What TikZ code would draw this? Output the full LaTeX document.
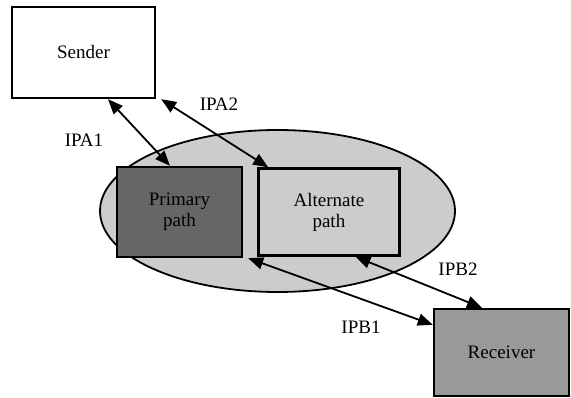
\documentclass[tikz,border=0pt]{standalone}
\usepackage{fontspec}
\setmainfont{Liberation Serif}
\usepackage{tikz}
\usetikzlibrary{arrows, arrows.meta, shapes, calc, positioning}
\definecolor{darkbox}{gray}{0.40}
\definecolor{midbox}{gray}{0.60}
\definecolor{lightbox}{gray}{0.80}
\tikzset {
    box/.style = {
        draw,
        shape = rectangle,
        line width=2.4pt,
        align=center,
        font=\fontsize{19}{21}\selectfont
    },
    region/.style = {
        draw,
        shape = ellipse,
        fill=lightbox,
        line width=1.8pt,
        minimum width=355pt,
        minimum height=162pt
    },
    link/.style = {
        {Triangle[length=15pt, width=12pt]}-{Triangle[length=15pt, width=12pt]},
        line width=1.8pt
    },
    tag/.style = {
        font=\fontsize{19}{21}\selectfont
    }
}
\begin{document}
\begin{tikzpicture}[x=1pt, y=-1pt]
        \useasboundingbox (0,0) rectangle (571,398);

        % Background region holding both paths
        \node [region] at (277.5, 211)                              (group)    {};

        % Boxes : sender, the two paths, receiver
        \node [box, minimum width=143pt, minimum height=91pt] at (83.5, 52.5)   (sender)   {Sender};
        \node [box, fill=darkbox, minimum width=125pt, minimum height=90pt] at (179.5, 212) (primary) {Primary\\path};
        \node [box, fill=lightbox, minimum width=141pt, minimum height=87pt, right=14pt of primary] (alternate) {Alternate\\path};
        \node [box, fill=midbox, minimum width=135pt, minimum height=87pt] at (501.5, 352.5) (receiver) {Receiver};

        % Labels of the links
        \node [tag] at (84, 140)    (ipa1) {IPA1};
        \node [tag] at (219, 104)   (ipa2) {IPA2};
        \node [tag] at (361, 327)   (ipb1) {IPB1};
        \node [tag] at (458, 269)   (ipb2) {IPB2};

        \draw [link]   ([xshift=24.5pt]sender.south)     --  ([xshift=-9.5pt]primary.north);
        \draw [link]   ([xshift=5pt]sender.south east)   --  ([xshift=11pt]alternate.north west);
        \draw [link]   ([xshift=5pt]primary.south east)  --  ([yshift=-17pt]receiver.north west);
        \draw [link]   ([xshift=26.5pt]alternate.south)  --  ([xshift=-19.5pt]receiver.north);
    \end{tikzpicture}
\end{document}
